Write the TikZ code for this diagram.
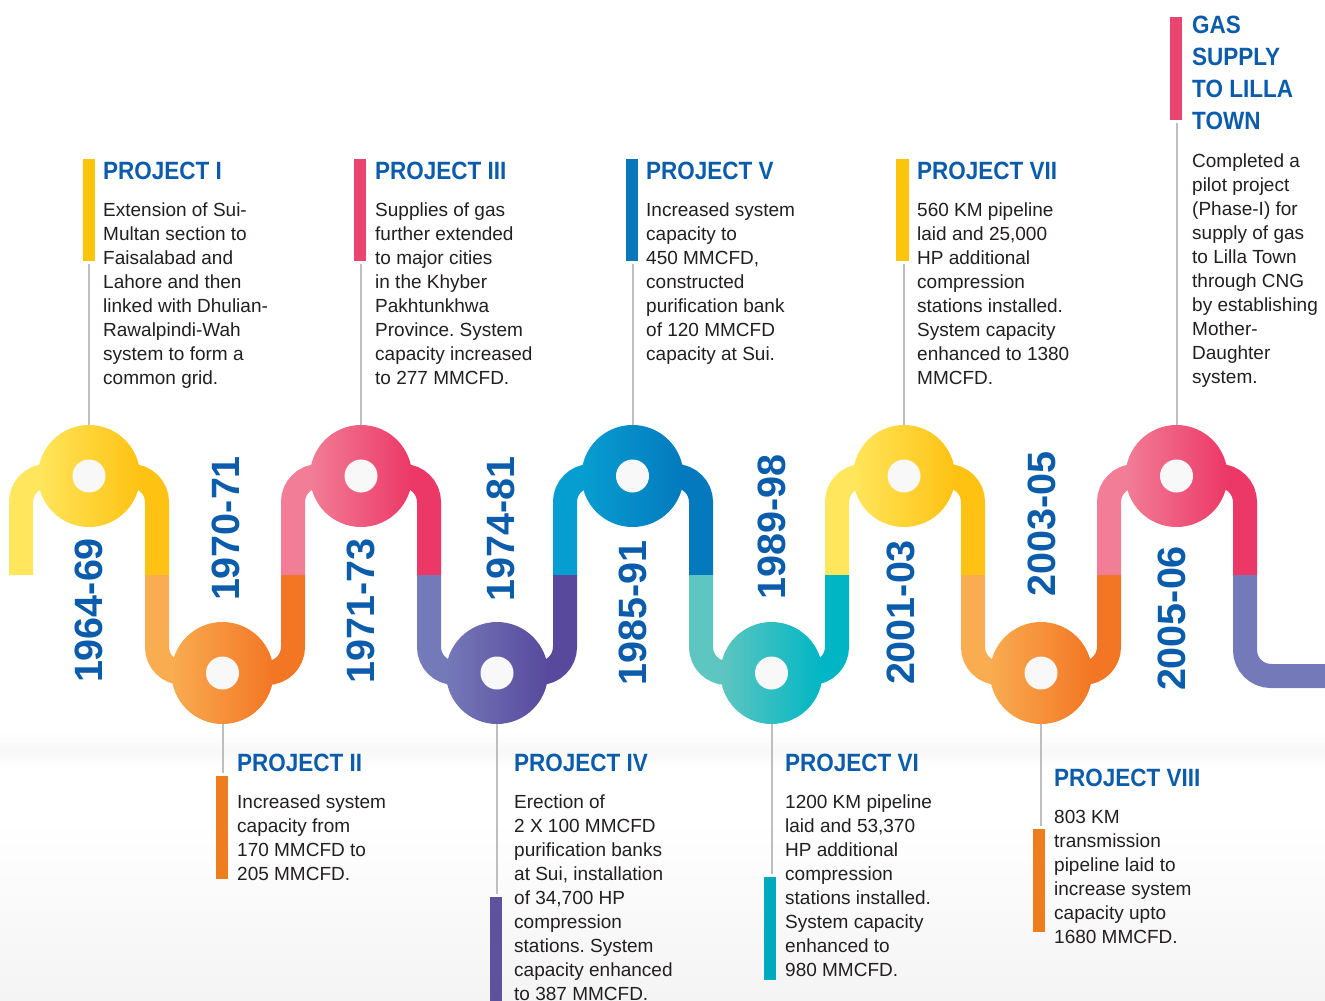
\documentclass[tikz,border=0pt]{standalone}
\usepackage{fontspec}
\setmainfont{Liberation Sans}
\newfontfamily\titlefont[FakeStretch=0.9]{Liberation Sans}
\usetikzlibrary{calc}
\frenchspacing

% palette
\definecolor{yelL}{HTML}{FFE65C}
\definecolor{yelR}{HTML}{FEC212}
\definecolor{orL}{HTML}{F9AC50}
\definecolor{orR}{HTML}{F37624}
\definecolor{pinkL}{HTML}{F27D96}
\definecolor{pinkR}{HTML}{EC3866}
\definecolor{purL}{HTML}{7479B9}
\definecolor{purR}{HTML}{58499C}
\definecolor{blueL}{HTML}{069ED0}
\definecolor{blueR}{HTML}{0479BE}
\definecolor{tealL}{HTML}{5EC6C0}
\definecolor{tealR}{HTML}{00B6C4}
\definecolor{barYel}{HTML}{FBC50B}
\definecolor{barPink}{HTML}{E9456F}
\definecolor{barBlue}{HTML}{0977BC}
\definecolor{barOr}{HTML}{EE7D1E}
\definecolor{barPur}{HTML}{5E519E}
\definecolor{barTeal}{HTML}{00AABE}
\definecolor{headBlue}{HTML}{0B5CAB}
\definecolor{bodyInk}{HTML}{231F20}
\definecolor{connGray}{HTML}{BCBEC0}
\definecolor{holeCol}{HTML}{F8F8F8}
\definecolor{bgFaint}{HTML}{F4F4F4}

\begin{document}
\begin{tikzpicture}[x=1pt,y=-1pt,
  pipe/.style={line width=24pt, rounded corners=26pt},
  disc/.style={circle, minimum size=102pt, inner sep=0pt, draw=none,
    path picture={\fill[holeCol] (path picture bounding box.center) circle[radius=16.5pt];}},
  bar/.style={rectangle, minimum width=12.5pt, inner sep=0pt, draw=none},
  conn/.style={draw=connGray, line width=2pt},
  head/.style={anchor=base west, inner sep=0pt, align=left, text=headBlue,
    font=\titlefont\bfseries\fontsize{25}{32}\selectfont},
  body/.style={anchor=base west, inner sep=0pt, align=left, text=bodyInk,
    font=\fontsize{19}{24}\selectfont},
  year/.style={rotate=90, inner sep=0pt, text=headBlue,
    font=\bfseries\fontsize{39.5}{40}\selectfont}]

\useasboundingbox (0,0) rectangle (1325,1001);
\fill[white] (0,0) rectangle (1325,1001);

% faint backdrop
\shade[top color=white, bottom color=bgFaint] (0,820) rectangle (1325,1001);
\shade[top color=white, bottom color=white, middle color=bgFaint, opacity=0.6] (0,732) rectangle (1325,768);

% pipe: upper bends
\foreach \cx/\xl/\xr/\cl/\cr in {89/21/157/yelL/yelR, 361/293/429/pinkL/pinkR,
    632.5/565/701/blueL/blueR, 904/837/973/yelL/yelR, 1176.5/1109/1245/pinkL/pinkR}{
  \draw[pipe,\cl] (\xl,575) -- (\xl,476) -- (\cx,476);
  \draw[pipe,\cr] (\xr,575) -- (\xr,476) -- (\cx,476);
}
% pipe: lower bends
\foreach \cx/\xl/\xr/\cl/\cr in {222.5/157/293/orL/orR, 497/429/565/purL/purR,
    771.5/701/837/tealL/tealR, 1041/973/1109/orL/orR}{
  \draw[pipe,\cl] (\xl,575) -- (\xl,673) -- (\cx,673);
  \draw[pipe,\cr] (\xr,575) -- (\xr,673) -- (\cx,673);
}
% pipe: outgoing tail
\draw[pipe,purL] (1245,575) -- (1245,676) -- (1330,676);

% milestone discs
\node[disc, left color=yelL, right color=yelR]   (u1) at (89,476) {};
\node[disc, left color=pinkL, right color=pinkR] (u2) at (361,476) {};
\node[disc, left color=blueL, right color=blueR] (u3) at (632.5,476) {};
\node[disc, left color=yelL, right color=yelR]   (u4) at (904,476) {};
\node[disc, left color=pinkL, right color=pinkR] (u5) at (1176.5,476) {};
\node[disc, left color=orL, right color=orR]     (l1) at (222.5,673) {};
\node[disc, left color=purL, right color=purR]   (l2) at (497,673) {};
\node[disc, left color=tealL, right color=tealR] (l3) at (771.5,673) {};
\node[disc, left color=orL, right color=orR]     (l4) at (1041,673) {};

% period labels
\node[year] (y1) at (89,610.5) {1964-69};
\node[year] (y2) at (226,528.5) {1970-71};
\node[year] (y3) at (361,611) {1971-73};
\node[year] (y4) at (501,529) {1974-81};
\node[year] (y5) at (632.5,613) {1985-91};
\node[year] (y6) at (771.5,527) {1989-98};
\node[year] (y7) at (901,612.5) {2001-03};
\node[year] (y8) at (1042,524) {2003-05};
\node[year] (y9) at (1171.5,618.5) {2005-06};

% accent bars
\node[bar, fill=barYel,  minimum height=102pt] (b1) at (89,210) {};
\node[bar, fill=barPink, minimum height=102pt] (b3) at (360,210) {};
\node[bar, fill=barBlue, minimum height=102pt] (b5) at (632,210) {};
\node[bar, fill=barYel,  minimum height=102pt] (b7) at (902.5,210) {};
\node[bar, fill=barPink, minimum height=103pt] (b9) at (1176,68.5) {};
\node[bar, fill=barOr,   minimum height=103pt] (b2) at (222,827.5) {};
\node[bar, fill=barPur,  minimum height=104pt] (b4) at (496,949) {};
\node[bar, fill=barTeal, minimum height=103pt] (b6) at (770,928.5) {};
\node[bar, fill=barOr,   minimum height=103pt] (b8) at (1039,880.5) {};

% leader lines
\draw[conn, shorten >=3pt] (u1.north) -- (u1.north |- b1.south);
\draw[conn, shorten >=3pt] (u2.north) -- (u2.north |- b3.south);
\draw[conn, shorten >=3pt] (u3.north) -- (u3.north |- b5.south);
\draw[conn, shorten >=3pt] (u4.north) -- (u4.north |- b7.south);
\draw[conn, shorten >=3pt] (u5.north) -- (u5.north |- b9.south);
\draw[conn, shorten >=3pt] (l1.south) -- (l1.south |- b2.north);
\draw[conn, shorten >=3pt] (l2.south) -- (l2.south |- b4.north);
\draw[conn, shorten >=3pt] (l3.south) -- (l3.south |- b6.north);
\draw[conn, shorten >=3pt] (l4.south) -- (l4.south |- b8.north);

% upper captions (multi-line nodes sit on the baseline of their last line)
\node[head] (t1) at (103,179) {PROJECT I};
\node[body] (d1) at (103,384) {Extension of Sui-\\Multan section to\\Faisalabad and\\Lahore and then\\linked with Dhulian-\\Rawalpindi-Wah\\system to form a\\common grid.};
\node[head] (t3) at (375,179) {PROJECT III};
\node[body] (d3) at (375,384) {Supplies of gas\\further extended\\to major cities\\in the Khyber\\Pakhtunkhwa\\Province. System\\capacity increased\\to 277 MMCFD.};
\node[head] (t5) at (646,179) {PROJECT V};
\node[body] (d5) at (646,360) {Increased system\\capacity to\\450 MMCFD,\\constructed\\purification bank\\of 120 MMCFD\\capacity at Sui.};
\node[head] (t7) at (917,179) {PROJECT VII};
\node[body] (d7) at (917,384) {560 KM pipeline\\laid and 25,000\\HP additional\\compression\\stations installed.\\System capacity\\enhanced to 1380\\MMCFD.};
\node[head] (t9) at (1192,129) {GAS\\SUPPLY\\TO LILLA\\TOWN};
\node[body] (d9) at (1192,383) {Completed a\\pilot project\\(Phase-I) for\\supply of gas\\to Lilla Town\\through CNG\\by establishing\\Mother-\\Daughter\\system.};

% lower captions
\node[head] (t2) at (237,771) {PROJECT II};
\node[body] (d2) at (237,880) {Increased system\\capacity from\\170 MMCFD to\\205 MMCFD.};
\node[head] (t4) at (514,771) {PROJECT IV};
\node[body] (d4) at (514,1000) {Erection of\\2 X 100 MMCFD\\purification banks\\at Sui, installation\\of 34,700 HP\\compression\\stations. System\\capacity enhanced\\to 387 MMCFD.};
\node[head] (t6) at (785,771) {PROJECT VI};
\node[body] (d6) at (785,976) {1200 KM pipeline\\laid and 53,370\\HP additional\\compression\\stations installed.\\System capacity\\enhanced to\\980 MMCFD.};
\node[head] (t8) at (1054,786) {PROJECT VIII};
\node[body] (d8) at (1054,943) {803 KM\\transmission\\pipeline laid to\\increase system\\capacity upto\\1680 MMCFD.};
\end{tikzpicture}
\end{document}
